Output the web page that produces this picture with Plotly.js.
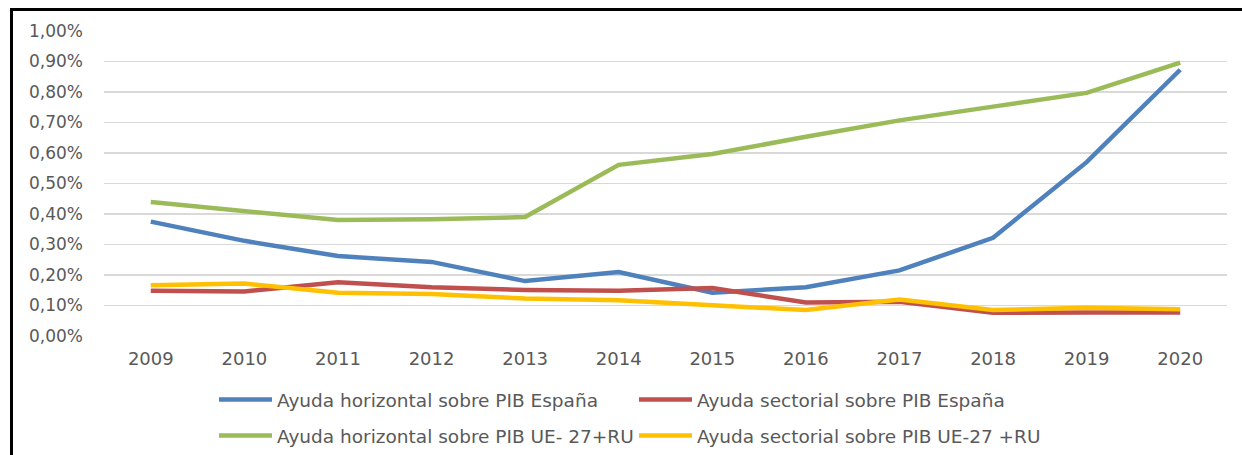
<!DOCTYPE html>
<html>
<head>
<meta charset="utf-8">
<script src="https://cdn.plot.ly/plotly-3.0.1.min.js"></script>
<style>
html,body{margin:0;padding:0;background:#fff;}
#chart{width:1242px;height:455px;}
</style>
</head>
<body>
<div id="chart"></div>
<script>
var years = ["2009","2010","2011","2012","2013","2014","2015","2016","2017","2018","2019","2020"];
var horizEsp = [0.375,0.312,0.262,0.243,0.180,0.210,0.142,0.160,0.215,0.322,0.570,0.873];
var sectEsp  = [0.148,0.146,0.176,0.160,0.151,0.148,0.157,0.110,0.112,0.076,0.077,0.077];
var horizUE  = [0.439,0.411,0.380,0.383,0.390,0.561,0.597,0.653,0.707,0.752,0.797,0.896];
var sectUE   = [0.166,0.172,0.142,0.138,0.123,0.117,0.101,0.085,0.120,0.085,0.093,0.088];
var names = ["Ayuda horizontal sobre PIB España","Ayuda sectorial sobre PIB España",
             "Ayuda horizontal sobre PIB UE- 27+RU","Ayuda sectorial sobre PIB UE-27 +RU"];
var colors = ["#4F81BD","#C0504D","#9BBB59","#FFC000"];

var font = {family:"DejaVu Sans", color:"#595959"};
function tr(y,i,leg){
  return {x:years,y:y,name:names[i],type:"scatter",mode:"lines",
    line:{color:colors[i],width:4.5},legend:leg};
}
var data = [tr(horizEsp,0,"legend"),tr(sectEsp,1,"legend"),tr(horizUE,2,"legend2"),tr(sectUE,3,"legend2")];

var L=104, T=31, W=1123, H=305;
function px(x){return (x-L)/W;}
function py(y){return (T+H-y)/H;}

var legBase = {orientation:"h",xanchor:"left",yanchor:"middle",x:px(214),
  font:{family:"DejaVu Sans",color:"#595959",size:18.5},
  entrywidth:352,entrywidthmode:"pixels",itemwidth:53,bgcolor:"rgba(0,0,0,0)",traceorder:"normal"};
var leg1 = Object.assign({},legBase,{y:py(400)});
var leg2 = Object.assign({},legBase,{y:py(436)});

var layout = {
  width:1242,height:455,
  margin:{l:L,r:1242-L-W,t:T,b:455-T-H,autoexpand:false},
  paper_bgcolor:"#fff",plot_bgcolor:"#fff",
  separators:",.",
  font:font,
  showlegend:true,
  legend:leg1, legend2:leg2,
  xaxis:{type:"category",range:[-0.5,11.5],showgrid:false,zeroline:false,showline:false,automargin:false,
    ticks:"",tickfont:{family:"DejaVu Sans",color:"#595959",size:18},ticklabelstandoff:10,fixedrange:true},
  yaxis:{range:[0,1],dtick:0.1,tick0:0,tickformat:".2f",ticksuffix:"%",showgrid:true,automargin:false,
    gridcolor:"#D9D9D9",gridwidth:1.5,zeroline:false,showline:false,ticks:"",
    tickfont:{family:"DejaVu Sans",color:"#595959",size:17},ticklabelstandoff:20,fixedrange:true},
  shapes:[{type:"path",xref:"paper",yref:"paper",
    path:"M "+px(11.5)+","+py(470)+" L "+px(11.5)+","+py(9.5)+" L "+px(1260)+","+py(9.5),
    line:{color:"#000",width:3}}]
};
Plotly.newPlot("chart",data,layout,{displayModeBar:false,staticPlot:true});
</script>
</body>
</html>
